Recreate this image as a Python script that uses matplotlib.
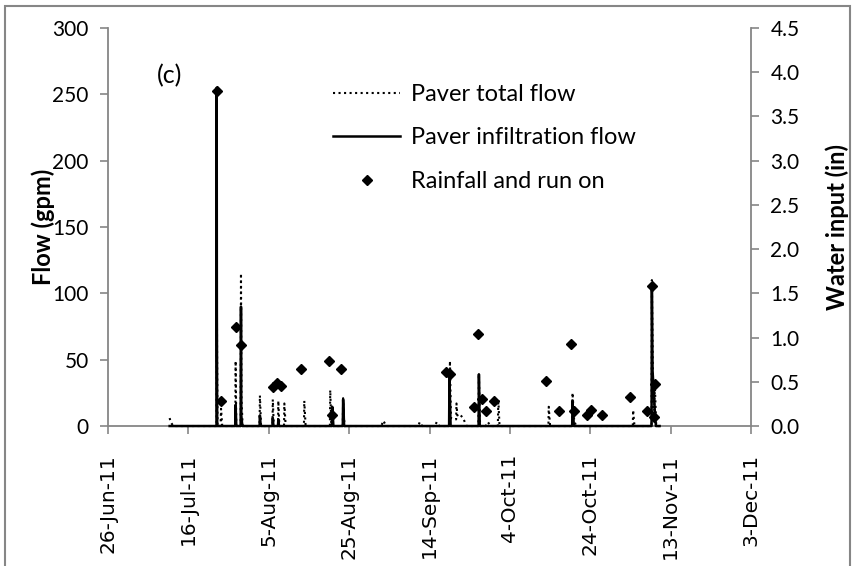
import numpy as np
import pandas as pd
import matplotlib
matplotlib.use("Agg")
import matplotlib.pyplot as plt
import matplotlib.dates as mdates
from matplotlib.patches import Rectangle
from matplotlib.ticker import FuncFormatter, MultipleLocator

# ---- data ----
# paver total flow (gpm), dotted series
total_time = [
    "2011-07-11 08:00", "2011-07-11 14:00", "2011-07-12 06:00",
    "2011-07-23 00:00", "2011-07-23 01:00", "2011-07-23 03:00", "2011-07-23 06:00",
    "2011-07-24 00:00", "2011-07-24 03:00", "2011-07-24 10:00",
    "2011-07-27 16:00", "2011-07-27 18:00", "2011-07-27 22:00",
    "2011-07-29 00:00", "2011-07-29 02:00", "2011-07-29 05:00", "2011-07-29 12:00",
    "2011-08-02 17:00", "2011-08-02 19:00", "2011-08-03 02:00",
    "2011-08-05 22:00", "2011-08-06 00:00", "2011-08-06 06:00",
    "2011-08-07 07:00", "2011-08-07 09:00", "2011-08-07 15:00",
    "2011-08-08 19:00", "2011-08-08 21:00", "2011-08-09 05:00",
    "2011-08-13 18:00", "2011-08-13 20:00", "2011-08-14 04:00",
    "2011-08-20 05:00", "2011-08-20 07:00", "2011-08-20 14:00",
    "2011-08-23 10:00", "2011-08-23 12:00", "2011-08-23 20:00",
    "2011-09-02 00:00", "2011-09-02 12:00", "2011-09-03 06:00",
    "2011-09-11 04:00", "2011-09-11 14:00", "2011-09-12 04:00",
    "2011-09-15 08:00", "2011-09-15 19:00", "2011-09-16 10:00",
    "2011-09-18 22:00", "2011-09-19 02:00", "2011-09-19 08:00",
    "2011-09-20 15:00", "2011-09-20 17:00", "2011-09-20 22:00",
    "2011-09-21 12:00", "2011-09-22 08:00", "2011-09-23 06:00",
    "2011-09-26 04:00", "2011-09-26 07:00", "2011-09-26 14:00",
    "2011-09-28 00:00", "2011-09-28 12:00", "2011-09-29 06:00",
    "2011-10-01 00:00", "2011-10-01 03:00", "2011-10-01 10:00",
    "2011-10-13 14:00", "2011-10-13 16:00", "2011-10-14 00:00",
    "2011-10-19 12:00", "2011-10-19 14:00", "2011-10-20 00:00", "2011-10-20 12:00",
    "2011-11-03 14:00", "2011-11-03 16:00", "2011-11-04 00:00",
    "2011-11-08 06:00", "2011-11-08 08:00", "2011-11-08 14:00", "2011-11-08 20:00",
    "2011-11-09 02:00", "2011-11-09 10:00", "2011-11-10 06:00",
]
total_gpm = [
    6, 3, 0,
    0, 146, 60, 0,
    0, 13, 0,
    0, 49, 0,
    0, 115, 20, 0,
    0, 23, 0,
    0, 20, 0,
    0, 19, 0,
    0, 17, 0,
    0, 19, 0,
    0, 27, 0,
    0, 21, 0,
    0, 4, 0,
    0, 3, 0,
    0, 3, 0,
    0, 49, 6,
    5, 17, 8,
    9, 6, 0,
    0, 39, 0,
    0, 3, 0,
    0, 20, 0,
    0, 14.5, 0,
    0, 25, 4, 0,
    0, 12, 0,
    0, 110, 40, 5,
    30, 0, 0,
]

# paver infiltration flow (gpm), solid series
infil_time = [
    "2011-07-11 08:00",
    "2011-07-23 00:00", "2011-07-23 01:00", "2011-07-23 02:00", "2011-07-23 04:00",
    "2011-07-27 16:00", "2011-07-27 18:00", "2011-07-27 22:00",
    "2011-07-29 00:00", "2011-07-29 02:00", "2011-07-29 04:00", "2011-07-29 10:00",
    "2011-08-02 17:00", "2011-08-02 19:00", "2011-08-03 00:00",
    "2011-08-05 22:00", "2011-08-06 00:00", "2011-08-06 04:00",
    "2011-08-07 07:00", "2011-08-07 09:00", "2011-08-07 13:00",
    "2011-08-20 17:00", "2011-08-20 19:00", "2011-08-21 02:00",
    "2011-08-23 10:00", "2011-08-23 12:00", "2011-08-23 18:00",
    "2011-09-18 21:00", "2011-09-18 23:00", "2011-09-19 06:00",
    "2011-09-26 05:00", "2011-09-26 07:00", "2011-09-26 12:00",
    "2011-10-19 12:00", "2011-10-19 14:00", "2011-10-19 22:00",
    "2011-11-08 06:00", "2011-11-08 08:00", "2011-11-08 12:00",
    "2011-11-09 02:00", "2011-11-09 08:00", "2011-11-10 06:00",
]
infil_gpm = [
    0,
    0, 255, 84, 0,
    0, 16, 0,
    0, 90, 8, 0,
    0, 8, 0,
    0, 6, 0,
    0, 5, 0,
    0, 14.5, 0,
    0, 20, 0,
    0, 36, 0,
    0, 39, 0,
    0, 19, 0,
    0, 105, 42,
    10, 0, 0,
]

# rainfall and run on (in)
rain_time = [
    "2011-07-23 01:00", "2011-07-24 00:00", "2011-07-27 19:00", "2011-07-29 00:00",
    "2011-08-06 00:00", "2011-08-07 02:00", "2011-08-08 00:00", "2011-08-12 22:00",
    "2011-08-20 00:00", "2011-08-20 19:00", "2011-08-23 00:00",
    "2011-09-18 00:00", "2011-09-19 05:00", "2011-09-25 00:00", "2011-09-26 02:00",
    "2011-09-27 02:00", "2011-09-28 00:00", "2011-09-30 02:00",
    "2011-10-13 00:00", "2011-10-16 05:00", "2011-10-19 02:00", "2011-10-20 00:00",
    "2011-10-23 05:00", "2011-10-24 02:00", "2011-10-27 00:00",
    "2011-11-02 22:00", "2011-11-07 00:00", "2011-11-08 08:00", "2011-11-08 19:00",
    "2011-11-09 02:00",
]
rain_in = [
    3.79, 0.28, 1.12, 0.92,
    0.44, 0.49, 0.45, 0.65,
    0.74, 0.13, 0.65,
    0.61, 0.59, 0.22, 1.04,
    0.31, 0.17, 0.28,
    0.51, 0.17, 0.93, 0.17,
    0.12, 0.18, 0.12,
    0.33, 0.17, 1.58, 0.10,
    0.48,
]

x_ticks = pd.date_range("2011-06-26", "2011-12-03", freq="20D")

# ---- plot ----
plt.rcParams["font.family"] = ["Lato", "DejaVu Sans"]
grey = "#868686"

fig = plt.figure(figsize=(8.54, 5.66), dpi=100)
ax = fig.add_axes([0.1265, 0.2473, 0.7529, 0.7032])
ax2 = ax.twinx()

ax.plot(pd.to_datetime(total_time), total_gpm, color="black", ls=":", lw=1.5,
        label="Paver total flow", clip_on=False, zorder=3)
ax.plot(pd.to_datetime(infil_time), infil_gpm, color="black", ls="-", lw=1.8,
        label="Paver infiltration flow", clip_on=False, zorder=3)
ax2.plot(pd.to_datetime(rain_time), rain_in, ls="none", marker="D", ms=5.5,
         color="black", label="Rainfall and run on", zorder=4)

ax.set_xlim(x_ticks[0], x_ticks[-1])
ax.set_ylim(0, 300)
ax2.set_ylim(0, 4.5)
ax.yaxis.set_major_locator(MultipleLocator(50))
ax2.yaxis.set_major_locator(MultipleLocator(0.5))
ax2.yaxis.set_major_formatter(FuncFormatter(lambda v, p: f"{v:.1f}"))

ax.set_xticks(x_ticks)
ax.xaxis.set_major_formatter(
    FuncFormatter(lambda v, p: (lambda d: f"{d.day}-{d:%b-%y}")(mdates.num2date(v))))
for lab in ax.get_xticklabels():
    lab.set_fontfamily("DejaVu Sans")
ax.tick_params(axis="x", labelrotation=90, labelsize=14.5, pad=14)

# spines: left and bottom from ax, right from ax2 (so the zero line sits on top)
ax.spines["top"].set_visible(False)
ax.spines["right"].set_visible(False)
for side in ("top", "left", "bottom"):
    ax2.spines[side].set_visible(False)
ax.spines["left"].set_color(grey)
ax.spines["bottom"].set_color(grey)
ax2.spines["right"].set_color(grey)
for s in (ax.spines["left"], ax.spines["bottom"], ax2.spines["right"]):
    s.set_linewidth(1.3)
for a in (ax, ax2):
    a.tick_params(direction="out", length=6, width=1.2, color=grey)
ax.tick_params(axis="y", labelsize=15, pad=8)
ax2.tick_params(axis="y", labelsize=15, pad=8)
ax.set_zorder(2)
ax2.set_zorder(1)
ax.patch.set_visible(False)

ax.set_ylabel("Flow (gpm)", fontsize=17, fontweight="bold")
ax.yaxis.set_label_coords(-0.083, 0.5)
ax2.set_ylabel("Water input (in)", fontsize=17, fontweight="bold", rotation=90)
ax2.yaxis.set_label_coords(1.115, 0.5)

ax.text(pd.Timestamp("2011-07-11 10:00"), 264, "(c)", fontsize=18,
        ha="center", va="center")

h1, l1 = ax.get_legend_handles_labels()
h2, l2 = ax2.get_legend_handles_labels()
ax.legend(h1 + h2, l1 + l2, loc="upper left", frameon=False, fontsize=17,
          bbox_to_anchor=(333 / 854, 1 - 84 / 566), bbox_transform=fig.transFigure,
          borderpad=0, borderaxespad=0, handlelength=2.85, handletextpad=0.45,
          labelspacing=0.95)

# chart area border
fig.patches.append(Rectangle((0.006, -0.01), 0.989, 0.999, transform=fig.transFigure,
                             fill=False, edgecolor=grey, lw=1.5))

fig.savefig("out.png", dpi=100)
